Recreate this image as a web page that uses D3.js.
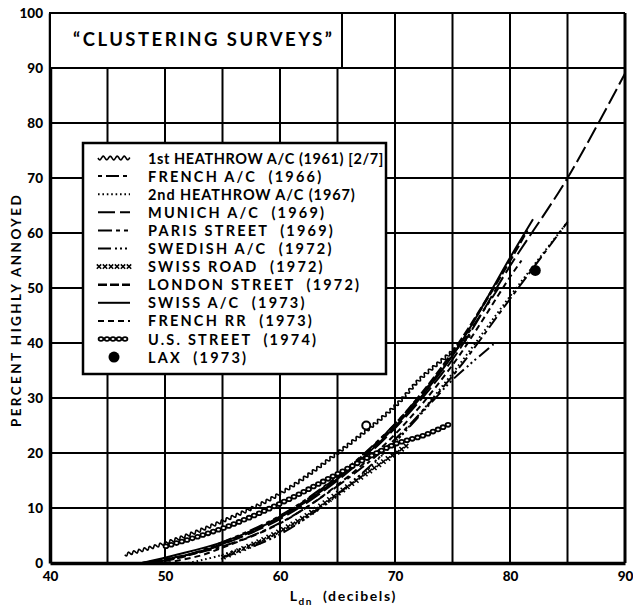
<!DOCTYPE html>
<html><head><meta charset="utf-8">
<script src="https://cdn.jsdelivr.net/npm/d3@7"></script>
<style>
body{margin:0;background:#fff;}
svg{display:block;}
text{font-family:Lato,"DejaVu Sans",sans-serif;font-weight:700;fill:#000;}
</style></head>
<body>
<svg id="c" width="633" height="611"></svg>
<script>
// ---- data ----
const xTicks = [40, 50, 60, 70, 80, 90];
const yTicks = [0, 10, 20, 30, 40, 50, 60, 70, 80, 90, 100];
const xGrid = [45, 50, 55, 60, 65, 70, 75, 80, 85];
const yGrid = [10, 20, 30, 40, 50, 60, 70, 80, 90];

const legendLabels = [
  "1st HEATHROW A/C (1961) [2/7]",
  "FRENCH A/C  (1966)",
  "2nd HEATHROW A/C (1967)",
  "MUNICH A/C  (1969)",
  "PARIS STREET  (1969)",
  "SWEDISH A/C  (1972)",
  "SWISS ROAD  (1972)",
  "LONDON STREET  (1972)",
  "SWISS A/C  (1973)",
  "FRENCH RR  (1973)",
  "U.S. STREET  (1974)",
  "LAX  (1973)"
];

const heathrow1 = [[46.5,1.5],[50,3.6],[55,7.6],[60,12.6],[65,20],[70,28.5],[72.2,33.5],[75,38.5],[76.5,41.5]];
const frenchAC  = [[48,0],[52,1.5],[55,3],[60,7.3],[65,14],[70,22.5],[75,34],[80,48],[85,62]];
const heathrow2 = [[52,0],[55,1.5],[60,5.6],[65,12.3],[70,22],[75,34.5],[80,48.5],[85,62]];
const munich    = [[48,0],[52,1.5],[55,3.4],[60,8],[65,15],[70,24.5],[75,37],[80,54],[85,70],[90,89]];
const paris     = [[49,0],[52,1.5],[55,3.8],[60,8.6],[65,15.8],[70,25.3],[75,37.8],[79,50]];
const swedish   = [[55,1],[60,5.2],[65,12.5],[70,22],[73.3,29.5],[75,33.3],[78.7,40]];
const swissRoad = [[55,1],[59,4.7],[62,8.2],[65,12.6],[68,17],[71,21.3]];
const london    = [[49,0],[52,1.4],[55,3.5],[60,8.4],[65,15.6],[70,25.2],[75,38.3],[80,55],[81.5,60.5]];
const swissAC   = [[48,0],[51,1.5],[55,3.8],[60,8.3],[65,15.3],[70,24.8],[75,37.7],[80,55.5],[82,62.5]];
const frenchRR  = [[50,0],[53,1.3],[55,2.8],[60,7.2],[65,14.2],[70,23.4],[75,36],[80,52],[81,55]];
const usStreet  = [[50,3],[55,6.3],[60,10.8],[65,16.2],[70,21.6],[72.5,23.2],[75,25.5]];
const laxPoint  = [[82.2,53.2]];
const openPoint = [[67.5,25]];

// ---- layout ----
const svg = d3.select("#c");
const x = d3.scaleLinear().domain([40, 90]).range([50, 625]);
const y = d3.scaleLinear().domain([0, 100]).range([563, 13]);

// grid
svg.append("g").selectAll("line").data(xGrid).join("line")
  .attr("x1", d => x(d)).attr("x2", d => x(d)).attr("y1", y(0)).attr("y2", y(100))
  .attr("stroke", "#000").attr("stroke-width", 2);
svg.append("g").selectAll("line").data(yGrid).join("line")
  .attr("x1", x(40)).attr("x2", x(90)).attr("y1", d => y(d)).attr("y2", d => y(d))
  .attr("stroke", "#000").attr("stroke-width", 2);

// frame
svg.append("line").attr("x1", x(40)).attr("x2", x(90)).attr("y1", y(100)).attr("y2", y(100)).attr("stroke","#000").attr("stroke-width",2);
svg.append("line").attr("x1", x(90)).attr("x2", x(90)).attr("y1", y(100)).attr("y2", y(0)).attr("stroke","#000").attr("stroke-width",3);

// axes
const xAxis = d3.axisBottom(x).tickValues(xTicks).tickSize(0).tickPadding(8).tickFormat(d3.format("d"));
const gx = svg.append("g").attr("transform", `translate(0,${y(0)})`).call(xAxis);
gx.select(".domain").attr("stroke-width", 3.5);
gx.selectAll("text").style("font-size", "13.5px").style("font-family", "Lato, sans-serif").style("font-weight", "900");

const yAxis = d3.axisLeft(y).tickValues(yTicks).tickSize(0).tickPadding(7).tickFormat(d3.format("d"));
const gy = svg.append("g").attr("transform", `translate(${x(40)},0)`).call(yAxis);
gy.select(".domain").attr("stroke-width", 3.5);
gy.selectAll("text").style("font-size", "13.5px").style("font-family", "Lato, sans-serif").style("font-weight", "900");

// axis titles
svg.append("text").attr("transform", `translate(21,${y(50)+22}) rotate(-90)`)
  .attr("text-anchor", "middle").style("font-size", "13.5px").style("letter-spacing", "2.4px")
  .text("PERCENT HIGHLY ANNOYED");
const xl = svg.append("text").attr("x", x(65.5)).attr("y", 601).attr("text-anchor", "middle")
  .style("font-size", "14px").style("letter-spacing", "1.6px").attr("xml:space", "preserve");
xl.append("tspan").text("L");
xl.append("tspan").attr("dy", 4).style("font-size", "10px").text("dn");
xl.append("tspan").attr("dy", -4).text("  (decibels)");

// title box
svg.append("rect").attr("x", x(40)).attr("y", y(100)).attr("width", 292).attr("height", y(90) - y(100))
  .attr("fill", "#fff").attr("stroke", "#000").attr("stroke-width", 2);
svg.append("text").attr("x", 73).attr("y", 46).style("font-size", "18.5px").style("letter-spacing", "2.5px")
  .style("font-weight", "700").text("\u201CCLUSTERING SURVEYS\u201D");

// ---- curves ----
const line = d3.line().x(d => x(d[0])).y(d => y(d[1])).curve(d3.curveCatmullRom.alpha(0.5));
const plot = svg.append("g");

const styles = [
  {data: frenchAC, dash: "4,4,13,4", w: 2},
  {data: heathrow2, dash: "1.6,2.8", w: 2},
  {data: munich, dash: "17,5", w: 2},
  {data: paris, dash: "14,4,4,4,4,4", w: 2},
  {data: swedish, dash: "13,4,2,3,2,3,2,4", w: 2},
  {data: london, dash: "9,3", w: 2.6},
  {data: swissAC, dash: null, w: 2},
  {data: frenchRR, dash: "6,4", w: 2}
];
styles.forEach(s => {
  plot.append("path").attr("d", line(s.data)).attr("fill", "none").attr("stroke", "#000")
    .attr("stroke-width", s.w).attr("stroke-dasharray", s.dash);
});

// wavy helper
function wavyAlong(g, pathD, amp, period, width) {
  const tmp = g.append("path").attr("d", pathD).attr("fill", "none").attr("stroke", "none");
  const node = tmp.node(), L = node.getTotalLength();
  const pts = [];
  for (let s = 0; s <= L; s += 0.6) {
    const p = node.getPointAtLength(s), q = node.getPointAtLength(Math.min(L, s + 0.5)), r = node.getPointAtLength(Math.max(0, s - 0.5));
    let dx = q.x - r.x, dy = q.y - r.y; const n = Math.hypot(dx, dy) || 1; dx /= n; dy /= n;
    const o = amp * Math.sin(2 * Math.PI * s / period);
    pts.push([p.x - dy * o, p.y + dx * o]);
  }
  tmp.remove();
  g.append("path").attr("d", d3.line()(pts)).attr("fill", "none").attr("stroke", "#000").attr("stroke-width", width);
}
function marksAlong(g, pathD, step, kind) {
  const tmp = g.append("path").attr("d", pathD).attr("fill", "none").attr("stroke", "none");
  const node = tmp.node(), L = node.getTotalLength();
  for (let s = 1; s <= L; s += step) {
    const p = node.getPointAtLength(s);
    if (kind === "x") {
      g.append("path").attr("d", `M${p.x-2.2},${p.y-2.2}L${p.x+2.2},${p.y+2.2}M${p.x-2.2},${p.y+2.2}L${p.x+2.2},${p.y-2.2}`)
        .attr("stroke", "#000").attr("stroke-width", 1.5);
    } else {
      g.append("ellipse").attr("cx", p.x).attr("cy", p.y).attr("rx", 2.4).attr("ry", 1.9)
        .attr("fill", "#fff").attr("stroke", "#000").attr("stroke-width", 1.8);
    }
  }
  tmp.remove();
}

wavyAlong(plot, line(heathrow1), 1.5, 5.5, 1.6);
marksAlong(plot, line(swissRoad), 5.5, "x");
marksAlong(plot, line(usStreet), 5.5, "o");

plot.selectAll(".lax").data(laxPoint).join("circle").attr("cx", d => x(d[0])).attr("cy", d => y(d[1]))
  .attr("r", 5.5).attr("fill", "#000");
plot.selectAll(".open").data(openPoint).join("circle").attr("cx", d => x(d[0])).attr("cy", d => y(d[1]))
  .attr("r", 4).attr("fill", "#fff").attr("stroke", "#000").attr("stroke-width", 2);

// ---- legend ----
const lg = svg.append("g");
lg.append("rect").attr("x", 83).attr("y", 143).attr("width", 303).attr("height", 231)
  .attr("fill", "#fff").attr("stroke", "#000").attr("stroke-width", 2.5);
const rowY = i => 158 + i * 18.1;
const sx0 = 98, sx1 = 130;
const spacing = [0.6, 2.2, 0.9, 2.2, 2.2, 2.2, 2.2, 2.2, 2.2, 2.2, 2.2, 2.2];
legendLabels.forEach((lab, i) => {
  const yy = rowY(i);
  lg.append("text").attr("x", 148).attr("y", yy + 5.5).style("font-size", "14.5px")
    .style("letter-spacing", spacing[i] + "px").attr("xml:space", "preserve").text(lab);
  const seg = `M${sx0},${yy}L${sx1},${yy}`;
  if (i === 0) wavyAlong(lg, seg, 1.8, 7, 1.6);
  else if (i === 6) marksAlong(lg, `M${sx0},${yy}L${sx1},${yy}`, 6, "x");
  else if (i === 10) marksAlong(lg, `M${sx0+2},${yy}L${sx1},${yy}`, 6, "o");
  else if (i === 11) lg.append("circle").attr("cx", (sx0 + sx1) / 2).attr("cy", yy).attr("r", 5.5).attr("fill", "#000");
  else {
    const s = styles[[null,0,1,2,3,4,null,5,6,7][i]];
    lg.append("path").attr("d", seg).attr("stroke", "#000").attr("stroke-width", s.w).attr("stroke-dasharray", s.dash);
  }
});
</script>
</body></html>
